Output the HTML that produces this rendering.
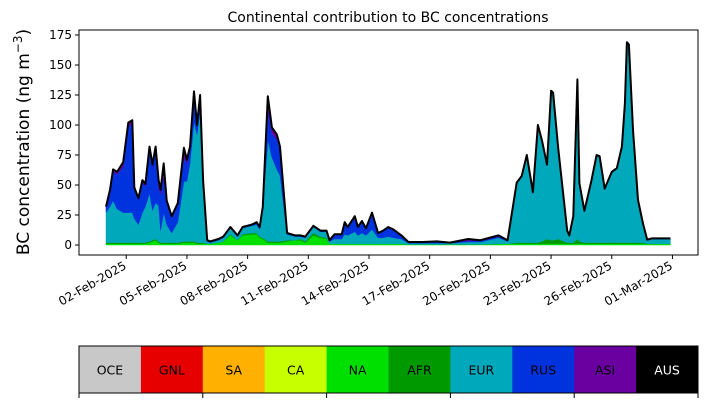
<!DOCTYPE html>
<html><head><meta charset="utf-8">
<style>
body{margin:0;background:#fff;font-family:"Liberation Sans","DejaVu Sans",sans-serif;}
svg text{font-family:"DejaVu Sans","Liberation Sans",sans-serif;}
</style></head>
<body>
<svg id="chart" width="707" height="402" xmlns="http://www.w3.org/2000/svg">
<text x="388" y="22" font-size="14" text-anchor="middle">Continental contribution to BC concentrations</text>
<text transform="translate(29,142) rotate(-90)" font-size="17" text-anchor="middle">BC concentration (ng m<tspan dy="-7" font-size="12">−3</tspan><tspan dy="7">)</tspan></text>
<g id="plot"></g>
<g id="legend"></g>
</svg>
<script>
const days=[0,0.2,0.35,0.55,0.85,1.1,1.3,1.4,1.6,1.8,1.95,2.15,2.3,2.45,2.6,2.7,2.85,3.0,3.25,3.55,3.85,4.0,4.15,4.35,4.5,4.65,4.8,5.0,5.15,5.55,5.8,6.15,6.5,6.75,7.2,7.45,7.6,7.75,8.0,8.2,8.45,8.6,8.95,9.35,9.6,9.85,10.25,10.6,10.9,11.05,11.3,11.65,11.8,11.95,12.3,12.45,12.65,12.85,13.15,13.45,13.7,13.95,14.2,14.6,14.95,15.65,16.35,17.0,17.9,18.5,19.4,19.85,20.3,20.55,20.8,21.1,21.35,21.55,21.8,22.0,22.1,22.35,22.8,22.9,23.1,23.3,23.4,23.65,24.0,24.25,24.4,24.65,25.0,25.25,25.5,25.65,25.75,25.85,26.05,26.3,26.55,26.75,27.0,27.9];
const naVals=[1,1,1,1,1,1,1,1,1,1,1,2,3,4,2,1,1,1,1,1,2,2,2,2,1,1,1,1,1,2,3,8,4,8,9,9,6,5,2,2,2,2,3,4,4,2,8,6,5,1,1,1,1,1,1,1,1,1,1,1,1,1,1,1,0.5,0.5,0.5,0.5,0.5,0.5,1,1,1,1,1,1,1,1,1,1,1,1,1,1,1,1,1,1,1,1,1,1,1,1,1,1,1,1,1,1,1,1,1,1];
const afrVals=[1,1,1,1,1,1,1,1,1,1,1,1,1,1,1,1,1,1,1,1,1,1,1,1,1,1,1,0,0,0,0,1,0,1,1,1,1,1,1,1,1,1,1,0,1,1,2,1,1,0,0,0,0,0,0,0,0,0,0,0,0,0,0,0,0,0,0,0,0,0,0,0,1,1,1,1,1,2,4,3,3,4,1,1,1,4,2,1,1,1,1,1,1,1,1,1,1,1,1,1,1,0,0,0];
const eurVals=[25,30,35,28,25,25,25,20,15,25,30,40,25,30,30,10,25,15,8,17,50,50,65,100,90,110,48,2,1,2,3,5,3,5,6,7,6,24,85,70,60,55,5,3,2,3,5,4,5,2,4,4,8,7,10,7,9,7,12,5,5,6,5,4,1,1,1,1,2,2,5,2,49,55,72,41,97,83,61,124,122,76,9,5,21,132,48,26,51,72,71,44,58,61,79,115,166,164,93,35,15,3,4,4];
const rusVals=[5,13,24,29,38,72,74,25,21,25,17,36,36,45,15,30,30,18,13,15,20,15,12,20,7,12,3,1,1,1,1,1,1,1,1,2,2,2,25,20,25,22,1,1,1,1,1,1,1,1,4,4,10,7,12,7,10,6,13,4,6,8,7,3,0.5,0.5,1,0.3,1,1,1,0.5,1,0.5,1,1,1,1,1,0.5,1,0.5,1,1,1,1,0.5,0.5,1,1,1,1,1,1,1,1,1,1,1,0.5,0.5,0.5,0.5,0.5];
const asiVals=[0,1,2,2,4,3,3,1,1,2,2,3,2,2,6,4,11,2,1,1,8,3,2,5,1,1,1,0,0,0,0,0,0,0,0,0,0,0,11,5,4,2,0,0,0,0,0,0,0,0,0,0,0,0,1,0,0,0,1,0,0,0,0,0,0.5,0.5,0.5,0.2,1.5,0.5,1,0.5,0,0,0,0,0,0,0,0,0,0,0,0,0,0,0,0,0,0,0,0,0,0,0,0,0,0,0,0,0,0,0,0];
const stackNames=["na","afr","eur","rus","asi"];
const stackColors=["#00e000","#009a00","#00a8bc","#0033dd","#6a00a0"];
const yTicks=[0,25,50,75,100,125,150,175];
const xTickLabels=["02-Feb-2025","05-Feb-2025","08-Feb-2025","11-Feb-2025","14-Feb-2025","17-Feb-2025","20-Feb-2025","23-Feb-2025","26-Feb-2025","01-Mar-2025"];
const xTickDays=[1,4,7,10,13,16,19,22,25,28];
const legendLabels=["OCE","GNL","SA","CA","NA","AFR","EUR","RUS","ASI","AUS"];
const legendColors=["#c8c8c8","#e60000","#ffb000","#c8ff00","#00e000","#009a00","#00a8bc","#0033dd","#6a00a0","#000000"];

const NS="http://www.w3.org/2000/svg";
const L=79,R=698,T=30,B=255;
const xs=d=>106+d*20.23;
const ys=v=>245-v*1.2;
function mk(tag,attrs,parent){const e=document.createElementNS(NS,tag);for(const k in attrs)e.setAttribute(k,attrs[k]);parent.appendChild(e);return e;}
const plot=document.getElementById('plot');
const series=[naVals,afrVals,eurVals,rusVals,asiVals];
let base=days.map(()=>0);
series.forEach((vals,si)=>{
  const top=base.map((b,i)=>b+vals[i]);
  let d="M"+days.map((t,i)=>xs(t).toFixed(1)+","+ys(top[i]).toFixed(1)).join(" L");
  for(let i=days.length-1;i>=0;i--)d+=" L"+xs(days[i]).toFixed(1)+","+ys(base[i]).toFixed(1);
  const p=mk('path',{d:d+"Z",fill:stackColors[si],stroke:stackColors[si],"stroke-width":"0.5"},plot);
  
  
  base=top;
});
const tl=mk('path',{d:"M"+days.map((t,i)=>xs(t).toFixed(1)+","+ys(base[i]).toFixed(1)).join(" L"),fill:"none",stroke:"#000","stroke-width":"2","stroke-linejoin":"round"},plot);


const fr=mk('rect',{x:L,y:T,width:R-L,height:B-T,fill:"none",stroke:"#000","stroke-width":"1"},plot);


yTicks.forEach(v=>{
  const y=ys(v);
  mk('line',{x1:L-4,x2:L,y1:y,y2:y,stroke:"#000"},plot);
  const t=mk('text',{x:L-7,y:y+4,"font-size":"12","text-anchor":"end"},plot);
  t.textContent=v;
  
  
});
xTickDays.forEach((d,i)=>{
  const x=xs(d);
  mk('line',{x1:x,x2:x,y1:B,y2:B+4,stroke:"#000"},plot);
  const t=mk('text',{transform:`translate(${x+1},${B+13}) rotate(-30)`,"font-size":"12","text-anchor":"end"},plot);
  t.textContent=xTickLabels[i];
  
  
});
const lg=document.getElementById('legend');
const lx=79,lw=619,ly=346,lh=47,cw=lw/legendLabels.length;
legendLabels.forEach((n,i)=>{
  const r=mk('rect',{x:lx+i*cw,y:ly,width:cw+0.5,height:lh,fill:legendColors[i]},lg);
  
  
  const t=mk('text',{x:lx+i*cw+cw/2,y:ly+lh/2+5,"font-size":"12.5","text-anchor":"middle",fill:n==="AUS"?"#fff":"#000"},lg);
  t.textContent=n;
  
  
});
mk('rect',{x:lx,y:ly,width:lw,height:lh,fill:"none",stroke:"#000"},lg);
for(let i=0;i<=5;i++){const x=lx+i*2*cw;mk('line',{x1:x,x2:x,y1:ly+lh,y2:ly+lh+5,stroke:"#000"},lg);}
</script>
</body></html>
